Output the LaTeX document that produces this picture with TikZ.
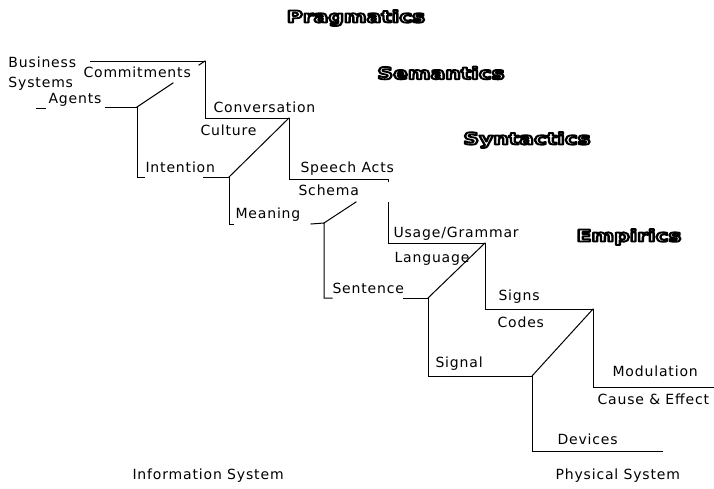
\documentclass[tikz,border=0pt]{standalone}
\usepackage{fontspec}
\usepackage{graphicx}
\newfontfamily\gen[LetterSpace=6]{DejaVu Sans}
\newfontfamily\headfont{DejaVu Sans Bold}
\newcommand\headtxt[1]{\scalebox{1.32}[1]{\special{pdf:code q 2 Tr 1.8 w 1 j 0 0 0 RG 1 1 1 rg}#1\special{pdf:code Q}}}
\begin{document}
\begin{tikzpicture}[x=1pt,y=-1pt,line width=1pt,
  txt/.style={font=\gen\fontsize{14}{16}\selectfont, anchor=base west, inner sep=0pt},
  hd/.style={font=\headfont\fontsize{16.5}{18}\selectfont, inner sep=0pt, anchor=center},
  stair/.style={line width=1pt, line cap=rect}]
\useasboundingbox (0,0) rectangle (714,488);
\fill[white] (0,0) rectangle (714,488);

% headings
\node[hd] (prag) at (356,18) {\headtxt{Pragmatics}};
\node[hd] (sem)  at (441,73) {\headtxt{Semantics}};
\node[hd] (syn)  at (527,140) {\headtxt{Syntactics}};
\node[hd] (emp)  at (629,237) {\headtxt{Empirics}};

% corners
\coordinate (a1) at (90,61);
\coordinate (a2) at (205,61);
\coordinate (a3) at (205,118);
\coordinate (b1) at (289,118);
\coordinate (b2) at (289,179);
\coordinate (b3) at (388,179);
\coordinate (c1) at (388,202);
\coordinate (c2) at (388,243);
\coordinate (c3) at (485,243);
\coordinate (d1) at (485,309);
\coordinate (d2) at (593,309);
\coordinate (d3) at (593,387);
\coordinate (d4) at (713,387);
\coordinate (g1) at (137,107);
\coordinate (g2) at (137,177);
\coordinate (h1) at (229,177);
\coordinate (h2) at (229,224);
\coordinate (k1) at (324,223);
\coordinate (k2) at (324,298);
\coordinate (m1) at (428,298);
\coordinate (m2) at (428,376);
\coordinate (n1) at (532,376);
\coordinate (n2) at (532,451);
\coordinate (n3) at (662,451);

% upper (outer) stair
\draw[stair] (a1) -- (a2) -- (a3) -- (b1) -- (b2) -- (b3) -- ++(0,2);
\draw[stair] (c1) -- (c2) -- (c3) -- (d1) -- (d2) -- (d3) -- (d4);

% diagonals
\draw[stair] (g1) -- (173,83);
\draw[stair] (199,65) -- (a2);
\draw[stair] (h1) -- (b1);
\draw[stair] (k1) -- (356,202);
\draw[stair] (m1) -- (c3);
\draw[stair] (n1) -- (d2);

% lower (inner) stair
\draw[stair] (36,108) -- (45,108);
\draw[stair] (105,107) -- (g1) -- (g2) -- (144,177);
\draw[stair] (203,177) -- (h1) -- (h2) -- (233,224);
\draw[stair] (311,224) -- (k1) -- (k2) -- (332,298);
\draw[stair] (403,298) -- (m1) -- (m2) -- (n1) -- (n2) -- (n3);

% labels
\node[txt] (business) at (8,67) {Business};
\node[txt] (systems) at (8,87) {Systems};
\node[txt] (agents) at (48,103) {Agents};
\node[txt] (commit) at (83,77) {Commitments};
\node[txt] (conv) at (213,112) {Conversation};
\node[txt] (culture) at (200,135) {Culture};
\node[txt] (intent) at (145,172) {Intention};
\node[txt] (meaning) at (235,218) {Meaning};
\node[txt] (speech) at (300,172) {Speech Acts};
\node[txt] (schema) at (298,195) {Schema};
\node[txt] (usage) at (393,237) {Usage/Grammar};
\node[txt] (lang) at (394,262) {Language};
\node[txt] (sent) at (332,293) {Sentence};
\node[txt] (signs) at (498,300) {Signs};
\node[txt] (codes) at (497,327) {Codes};
\node[txt] (signal) at (435,367) {Signal};
\node[txt] (modul) at (612,376) {Modulation};
\node[txt] (cause) at (597,404) {Cause \& Effect};
\node[txt] (devices) at (557,444) {Devices};
\node[txt] (infosys) at (132,479) {Information System};
\node[txt] (physsys) at (555,479) {Physical System};
\end{tikzpicture}
\end{document}
